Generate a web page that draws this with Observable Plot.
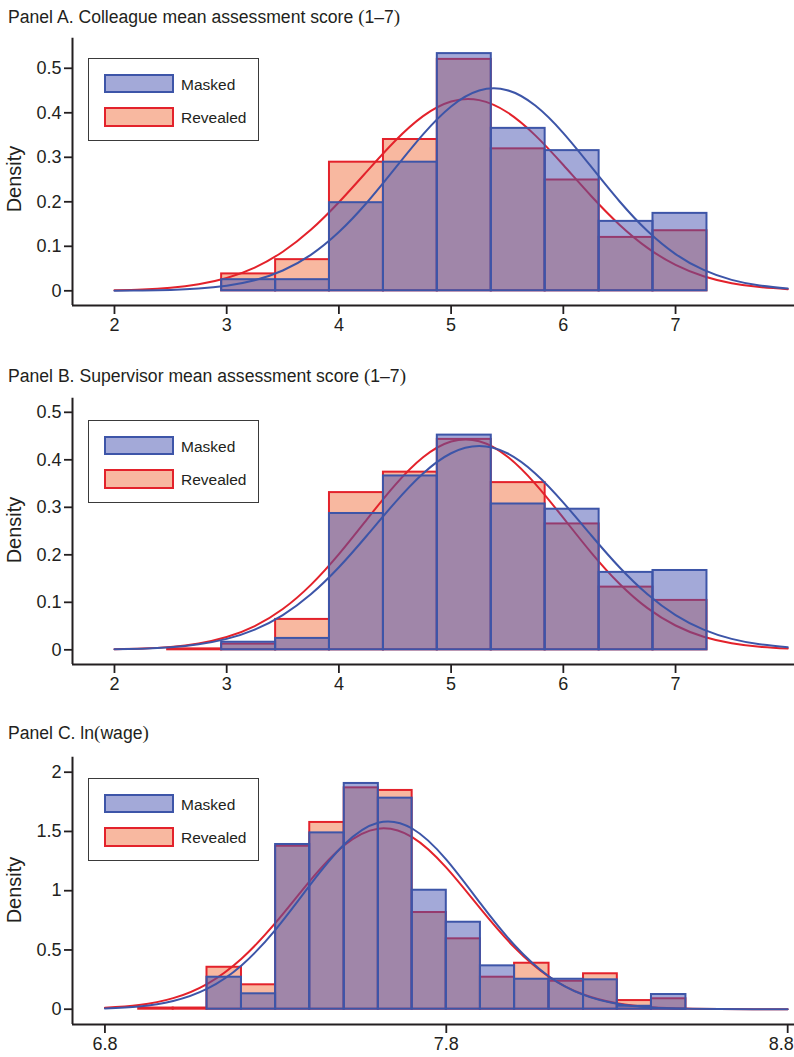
<!DOCTYPE html>
<html>
<head>
<meta charset="utf-8">
<script src="https://cdn.jsdelivr.net/npm/d3@7"></script>
<script src="https://cdn.jsdelivr.net/npm/@observablehq/plot@0.6"></script>
<style>
  html, body { margin: 0; padding: 0; background: #fff; }
  #page { position: relative; width: 794px; height: 1057px; overflow: hidden; font-family: "Liberation Sans", Arial, sans-serif; color: #231f20; }
  .abs { position: absolute; }
  .title { position: absolute; left: 8px; font-size: 17.6px; line-height: 17.6px; white-space: nowrap; }
  .paren { font-family: "Liberation Serif", serif; font-size: 19px; }
  .ylab { position: absolute; width: 200px; height: 20px; line-height: 20px; font-size: 20px; text-align: center; transform: rotate(-90deg); }
  .legend { position: absolute; left: 87.7px; width: 171.6px; height: 83.6px; box-sizing: border-box; border: 1.3px solid #3a3a3a; background: #fff; }
  .sw { position: absolute; left: 15px; width: 70px; height: 19.6px; box-sizing: border-box; border: 2px solid; }
  .lt { position: absolute; left: 92.3px; font-size: 15.5px; line-height: 15.5px; white-space: nowrap; }
  svg g[aria-label$="tick label"] text { font-size: 18px; }
</style>
</head>
<body>
<div id="page"></div>
<script>
// ---------- DATA ----------
// Bin edges (Panels A and B share the same bins)
const edgesAB = [2.474, 2.955, 3.436, 3.916, 4.397, 4.877, 5.358, 5.838, 6.319, 6.799, 7.280];
const maskedA   = [null, 0.025, 0.025, 0.198, 0.289, 0.533, 0.365, 0.315, 0.156, 0.174];
const revealedA = [null, 0.038, 0.070, 0.289, 0.340, 0.520, 0.319, 0.249, 0.120, 0.135];
const maskedB   = [null, 0.016, 0.024, 0.287, 0.366, 0.452, 0.307, 0.296, 0.163, 0.167];
const revealedB = [0.002, 0.012, 0.064, 0.331, 0.374, 0.443, 0.352, 0.265, 0.132, 0.104];

const edgesC = [6.899, 7.000, 7.099, 7.200, 7.300, 7.400, 7.501, 7.601, 7.700, 7.800, 7.900, 8.000, 8.101, 8.202, 8.301, 8.401, 8.502];
const maskedC   = [null, null, 0.270, 0.130, 1.390, 1.488, 1.905, 1.781, 1.004, 0.734, 0.366, 0.253, 0.253, 0.248, 0.025, 0.124];
const revealedC = [0.010, 0.010, 0.354, 0.206, 1.375, 1.576, 1.868, 1.846, 0.816, 0.594, 0.270, 0.388, 0.236, 0.299, 0.073, 0.088];

// Fitted density curves
const curveXAB = [2, 2.25, 2.5, 2.75, 3, 3.25, 3.5, 3.75, 4, 4.25, 4.5, 4.75, 5, 5.25, 5.5, 5.75, 6, 6.25, 6.5, 6.75, 7, 7.25, 7.5, 7.75, 8];
const curveMaskedA   = [0.0003, 0.0008, 0.0021, 0.0051, 0.0115, 0.0238, 0.0457, 0.0809, 0.1320, 0.1984, 0.2750, 0.3515, 0.4142, 0.4500, 0.4508, 0.4162, 0.3544, 0.2782, 0.2013, 0.1343, 0.0826, 0.0469, 0.0245, 0.0118, 0.0052];
const curveRevealedA = [0.0013, 0.0032, 0.0071, 0.0149, 0.0289, 0.0523, 0.0878, 0.1371, 0.1990, 0.2685, 0.3367, 0.3925, 0.4254, 0.4285, 0.4012, 0.3492, 0.2826, 0.2125, 0.1486, 0.0965, 0.0583, 0.0328, 0.0171, 0.0083, 0.0037];
const curveMaskedB   = [0.0010, 0.0024, 0.0054, 0.0116, 0.0230, 0.0425, 0.0731, 0.1169, 0.1738, 0.2407, 0.3099, 0.3712, 0.4138, 0.4290, 0.4138, 0.3712, 0.3099, 0.2407, 0.1738, 0.1169, 0.0731, 0.0425, 0.0230, 0.0116, 0.0054];
const curveRevealedB = [0.0011, 0.0027, 0.0062, 0.0134, 0.0269, 0.0500, 0.0859, 0.1367, 0.2014, 0.2747, 0.3467, 0.4052, 0.4384, 0.4391, 0.4071, 0.3494, 0.2777, 0.2042, 0.1391, 0.0877, 0.0512, 0.0276, 0.0138, 0.0064, 0.0027];

const curveXC = [6.8, 6.9, 7.0, 7.1, 7.2, 7.3, 7.4, 7.5, 7.6, 7.7, 7.8, 7.9, 8.0, 8.1, 8.2, 8.3, 8.4, 8.5, 8.6, 8.7, 8.8];
const curveMaskedC   = [0.0070, 0.0239, 0.0696, 0.1735, 0.3696, 0.6724, 1.0451, 1.3875, 1.5738, 1.5249, 1.2624, 0.8928, 0.5394, 0.2783, 0.1227, 0.0462, 0.0149, 0.0041, 0.0010, 0.0002, 0.0000];
const curveRevealedC = [0.0114, 0.0351, 0.0934, 0.2147, 0.4260, 0.7302, 1.0808, 1.3810, 1.5238, 1.4517, 1.1943, 0.8483, 0.5203, 0.2756, 0.1260, 0.0497, 0.0170, 0.0050, 0.0013, 0.0003, 0.0001];

// Ticks
const xTicksAB = [2, 3, 4, 5, 6, 7];
const yTicksAB = [0, 0.1, 0.2, 0.3, 0.4, 0.5];
const xTicksC = [6.8, 7.8, 8.8];
const yTicksC = [0, 0.5, 1, 1.5, 2];

const seriesNames = ["Masked", "Revealed"];
const titles = [
  ["Panel A. Colleague mean assessment score ", "(", "1–7", ")"],
  ["Panel B. Supervisor mean assessment score ", "(", "1–7", ")"],
  ["Panel C. ln", "(", "wage", ")"]
];

// ---------- STYLE ----------
const BLUE_STROKE = "#3d55a8";
const BLUE_FILL = "rgb(71,83,177)";
const RED_STROKE = "#e3222b";
const RED_FILL = "#f8b8a0";
const INK = "#231f20";

function bars(edges, vals) {
  return vals.map((v, i) => v == null ? null : {x1: edges[i], x2: edges[i + 1], y: v}).filter(d => d);
}
function pts(xs, ys) { return xs.map((x, i) => ({x, y: ys[i]})); }

function panel(o) {
  return Plot.plot({
    width: 794, height: o.height,
    marginLeft: 72, marginRight: 0, marginTop: 7.7, marginBottom: o.marginBottom,
    x: {domain: o.xDomain},
    y: {domain: o.yDomain},
    style: {fontFamily: "'Liberation Sans', Arial, sans-serif", fontSize: "18px", color: INK, background: "transparent", overflow: "visible"},
    marks: [
      Plot.rectY(bars(o.edges, o.revealed), {x1: "x1", x2: "x2", y1: 0, y2: "y", fill: RED_FILL, stroke: RED_STROKE, strokeWidth: 2}),
      Plot.line(pts(o.cx, o.cRevealed), {x: "x", y: "y", stroke: RED_STROKE, strokeWidth: 2, curve: "natural"}),
      Plot.rectY(bars(o.edges, o.masked), {x1: "x1", x2: "x2", y1: 0, y2: "y", fill: BLUE_FILL, fillOpacity: 0.5, stroke: BLUE_STROKE, strokeWidth: 2}),
      Plot.line(pts(o.cx, o.cMasked), {x: "x", y: "y", stroke: BLUE_STROKE, strokeWidth: 2, curve: "natural"}),
      Plot.ruleX([o.xDomain[0]], {stroke: INK, strokeWidth: 2}),
      Plot.ruleY([o.yDomain[0]], {stroke: INK, strokeWidth: 2}),
      Plot.axisX(o.xTicks, {anchor: "bottom", tickSize: 9, tickPadding: 4, strokeWidth: 1.8, stroke: INK, fill: INK, tickFormat: o.xFmt, label: null, fontSize: 18}),
      Plot.axisY(o.yTicks, {anchor: "left", tickSize: 8, tickPadding: 3, strokeWidth: 1.8, stroke: INK, fill: INK, tickFormat: o.yFmt, label: null, fontSize: 18})
    ]
  });
}

const fmtInt = d => String(d);
const fmt1 = d => d === 0 ? "0" : d.toFixed(1);
const fmtC = d => String(d);

const page = document.getElementById("page");

const panels = [
  {top: 30, titleTop: 7.8, ylabCY: 178.7, legendTop: 57.7,
   height: 305, marginBottom: 30, xDomain: [1.626, 8.06], yDomain: [-0.033, 0.5676],
   edges: edgesAB, masked: maskedA, revealed: revealedA, cx: curveXAB, cMasked: curveMaskedA, cRevealed: curveRevealedA,
   xTicks: xTicksAB, yTicks: yTicksAB, xFmt: fmtInt, yFmt: fmt1},
  {top: 390, titleTop: 366.8, ylabCY: 530, legendTop: 419.7,
   height: 304, marginBottom: 30, xDomain: [1.626, 8.06], yDomain: [-0.0309, 0.5297],
   edges: edgesAB, masked: maskedB, revealed: revealedB, cx: curveXAB, cMasked: curveMaskedB, cRevealed: curveRevealedB,
   xTicks: xTicksAB, yTicks: yTicksAB, xFmt: fmtInt, yFmt: fmt1},
  {top: 749, titleTop: 724.1, ylabCY: 889.5, legendTop: 777.7,
   height: 308, marginBottom: 33, xDomain: [6.705, 8.82], yDomain: [-0.129, 2.1266],
   edges: edgesC, masked: maskedC, revealed: revealedC, cx: curveXC, cMasked: curveMaskedC, cRevealed: curveRevealedC,
   xTicks: xTicksC, yTicks: yTicksC, xFmt: d => d.toFixed(1), yFmt: fmtC, lastLabelEnd: true}
];

panels.forEach((p, i) => {
  // title
  const t = document.createElement("div");
  t.className = "title";
  t.style.top = p.titleTop + "px";
  const [a, lp, mid, rp] = titles[i];
  t.append(a);
  const s1 = document.createElement("span"); s1.className = "paren"; s1.textContent = lp; t.append(s1);
  t.append(mid);
  const s2 = document.createElement("span"); s2.className = "paren"; s2.textContent = rp; t.append(s2);
  page.append(t);

  // chart
  const svg = panel(p);
  d3.select(svg).selectAll('g[aria-label$="tick label"]').attr("font-size", 18).style("font-size", "18px");
  if (p.lastLabelEnd) {
    // keep the right-most tick label inside the page edge
    const labels = d3.select(svg).selectAll('g[aria-label="x-axis tick label"] text').nodes();
    if (labels.length) {
      const last = labels[labels.length - 1];
      last.setAttribute("text-anchor", "end");
      last.setAttribute("dx", "6");
    }
  }
  const wrap = document.createElement("div");
  wrap.className = "abs";
  wrap.style.left = "0px";
  wrap.style.top = p.top + "px";
  wrap.append(svg);
  page.append(wrap);

  // y label
  const yl = document.createElement("div");
  yl.className = "ylab";
  yl.textContent = "Density";
  yl.style.left = (13.9 - 100) + "px";
  yl.style.top = (p.ylabCY - 10) + "px";
  page.append(yl);

  // legend
  const lg = document.createElement("div");
  lg.className = "legend";
  lg.style.top = p.legendTop + "px";
  const specs = [
    {name: seriesNames[0], bg: "#a3a9d8", bd: BLUE_STROKE, swTop: 15, tTop: 18.2},
    {name: seriesNames[1], bg: RED_FILL, bd: RED_STROKE, swTop: 48.3, tTop: 51.2}
  ];
  specs.forEach(s => {
    const sw = document.createElement("div");
    sw.className = "sw";
    sw.style.top = s.swTop + "px";
    sw.style.background = s.bg;
    sw.style.borderColor = s.bd;
    lg.append(sw);
    const lt = document.createElement("div");
    lt.className = "lt";
    lt.style.top = s.tTop + "px";
    lt.textContent = s.name;
    lg.append(lt);
  });
  page.append(lg);
});
</script>
</body>
</html>
